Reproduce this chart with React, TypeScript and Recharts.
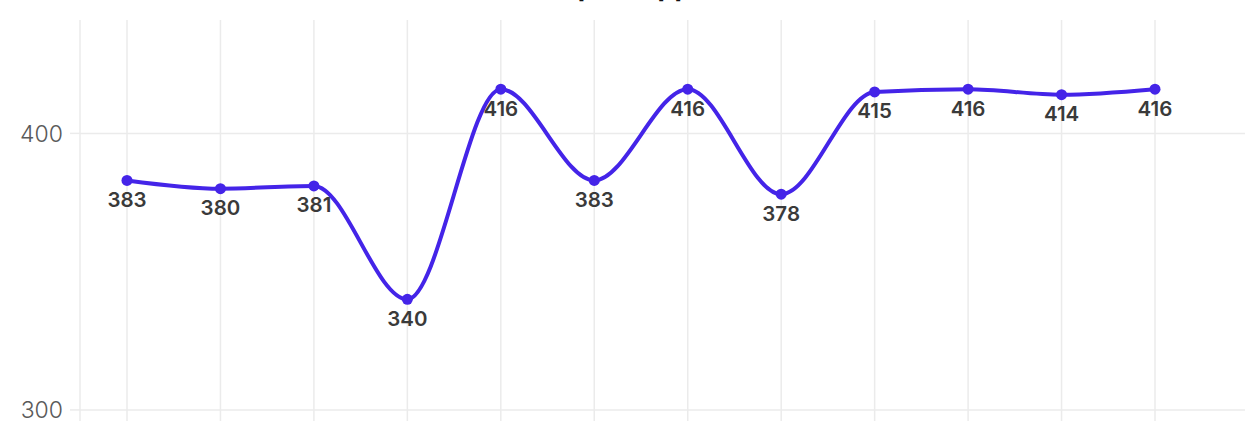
import React from "react";
import { LineChart, Line, XAxis, YAxis, ReferenceLine, LabelList } from "recharts";

const categories = ["Jan", "Feb", "Mar", "Apr", "May", "Jun", "Jul", "Aug", "Sep", "Oct", "Nov", "Dec"];
const values = [383, 380, 381, 340, 416, 383, 416, 378, 415, 416, 414, 416];
const yTicks = [300, 400];
const title = "Top 10 Apps";

const data = categories.map((c, i) => ({ month: c, value: values[i] }));

const GRID = "#ebebeb";

export default function App() {
  return (
    <div style={{ position: "absolute", left: 0, top: 0, width: 1245, height: 442, background: "#fff", fontFamily: "Inter, 'Noto Sans', sans-serif" }}>
      <LineChart width={1245} height={442} data={data} margin={{ top: 20, right: 0, bottom: 21, left: 0 }}>
        <text x={626} y={-4} textAnchor="middle" fontSize={27} fontWeight={700} fill="#111" fontFamily="Inter, sans-serif">
          {title}
        </text>
        <XAxis dataKey="month" hide scale="point" padding={{ left: 47, right: 90 }} />
        <YAxis
          domain={[296, 441]}
          ticks={yTicks}
          width={80}
          axisLine={{ stroke: GRID, strokeWidth: 1.5 }}
          tickLine={{ stroke: GRID, strokeWidth: 1.5 }}
          tickSize={10}
          tickMargin={7}
          tick={{ fill: "#5a5a5a", fontSize: 23, fontFamily: "Inter, sans-serif", fontWeight: 300 }}
        />
        {yTicks.map((t) => (
          <ReferenceLine key={"h" + t} y={t} stroke={GRID} strokeWidth={1.5} />
        ))}
        {categories.map((c) => (
          <ReferenceLine key={"v" + c} x={c} stroke={GRID} strokeWidth={1.5} />
        ))}
        <Line
          type="monotone"
          dataKey="value"
          stroke="#4424E8"
          strokeWidth={4}
          dot={{ r: 5.5, fill: "#4424E8", stroke: "#4424E8", strokeWidth: 0 }}
          activeDot={false}
          isAnimationActive={false}
        >
          <LabelList dataKey="value" position="bottom" offset={12} fill="#3a3a3a" fontSize={20.5} fontWeight={600} fontFamily="Inter, sans-serif" />
        </Line>
      </LineChart>
    </div>
  );
}
